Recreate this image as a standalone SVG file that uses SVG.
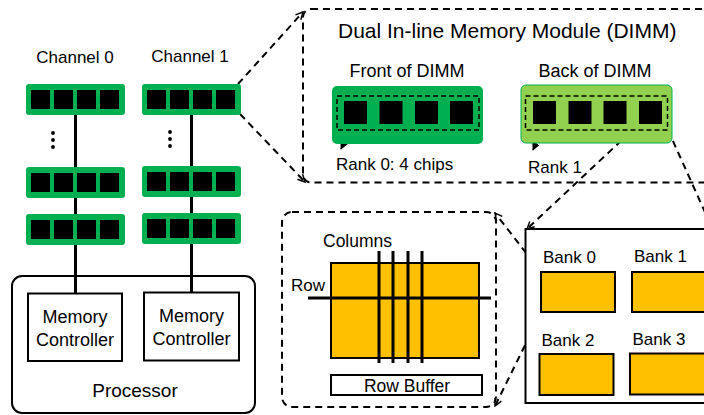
<svg xmlns="http://www.w3.org/2000/svg" width="704" height="415" viewBox="0 0 704 415">
<style>
text{font-family:"Liberation Sans",Arial,sans-serif;fill:#000}
.dimm{fill:#00b050}
.chip{fill:#000}
.bank{fill:#ffc000;stroke:#000;stroke-width:2}
.box{fill:#fff;stroke:#000;stroke-width:2}
.dash{fill:none;stroke:#000;stroke-width:2;stroke-dasharray:7 5}
.idash{fill:none;stroke:#000;stroke-width:1.5;stroke-dasharray:5 3}
.bus{stroke:#000;stroke-width:3}
</style>
<defs>
<marker id="oa" viewBox="0 0 10 10" refX="9" refY="5" markerWidth="9" markerHeight="9" markerUnits="userSpaceOnUse" orient="auto">
<path d="M1,1 L9,5 L1,9" fill="none" stroke="#000" stroke-width="1.6"/>
</marker>
<marker id="fa" viewBox="0 0 10 10" refX="9" refY="5" markerWidth="8" markerHeight="8" markerUnits="userSpaceOnUse" orient="auto">
<path d="M0,0 L10,5 L0,10 Z" fill="#000"/>
</marker>
<g id="chips4">
<rect class="chip" x="5" y="6" width="19" height="19"/>
<rect class="chip" x="28" y="6" width="19" height="19"/>
<rect class="chip" x="51" y="6" width="19" height="19"/>
<rect class="chip" x="74" y="6" width="19" height="19"/>
</g>
</defs>

<g id="processor">
<rect class="box" x="12" y="276" width="243" height="137" rx="10"/>
<text x="135" y="397" font-size="19" text-anchor="middle">Processor</text>
</g>

<g id="connectors">
<line class="bus" x1="75.5" y1="110" x2="75.5" y2="294"/>
<line class="bus" x1="191.5" y1="110" x2="191.5" y2="293"/>
<line class="dash" x1="238" y1="84" x2="303" y2="12" marker-end="url(#oa)"/>
<line class="dash" x1="240" y1="114" x2="305" y2="182" marker-end="url(#oa)"/>
<line class="dash" x1="639" y1="124" x2="527" y2="229" marker-end="url(#oa)"/>
<line class="dash" x1="668" y1="130" x2="713" y2="230"/>
<line class="dash" x1="541" y1="272" x2="495" y2="213" marker-end="url(#oa)"/>
<line class="dash" x1="541" y1="313" x2="495" y2="406" marker-end="url(#oa)"/>
<line x1="350" y1="130" x2="341" y2="149" stroke="#000" stroke-width="1.5" marker-end="url(#fa)"/>
<line x1="542" y1="130" x2="533" y2="150" stroke="#000" stroke-width="1.5" marker-end="url(#fa)"/>
</g>

<g id="channel0">
<text x="75" y="63" font-size="17" text-anchor="middle">Channel 0</text>
<g transform="translate(26,84)"><rect class="dimm" width="99" height="31" rx="3"/><use href="#chips4"/></g>
<circle cx="53" cy="133" r="1.9"/><circle cx="53" cy="140" r="1.9"/><circle cx="53" cy="147" r="1.9"/>
<g transform="translate(26,167)"><rect class="dimm" width="99" height="31" rx="3"/><use href="#chips4"/></g>
<g transform="translate(26,214)"><rect class="dimm" width="99" height="31" rx="3"/><use href="#chips4"/></g>
</g>

<g id="channel1">
<text x="190" y="62" font-size="17" text-anchor="middle">Channel 1</text>
<g transform="translate(142,84)"><rect class="dimm" width="99" height="31" rx="3"/><use href="#chips4"/></g>
<circle cx="170" cy="132" r="1.9"/><circle cx="170" cy="139" r="1.9"/><circle cx="170" cy="146" r="1.9"/>
<g transform="translate(142,166)"><rect class="dimm" width="99" height="31" rx="3"/><use href="#chips4"/></g>
<g transform="translate(142,213)"><rect class="dimm" width="99" height="31" rx="3"/><use href="#chips4"/></g>
</g>

<g id="mc0">
<rect class="box" x="28" y="293.5" width="94" height="67.5"/>
<text x="75" y="323" font-size="18" text-anchor="middle">Memory</text>
<text x="75" y="346" font-size="18" text-anchor="middle">Controller</text>
</g>
<g id="mc1">
<rect class="box" x="144" y="292.5" width="95" height="68"/>
<text x="191.5" y="322" font-size="18" text-anchor="middle">Memory</text>
<text x="191.5" y="345" font-size="18" text-anchor="middle">Controller</text>
</g>

<g id="dimm-detail">
<rect class="dash" x="303" y="9" width="440" height="173.5" rx="8"/>
<text x="338" y="38" font-size="21">Dual In-line Memory Module (DIMM)</text>
</g>

<g id="front-dimm">
<text x="407" y="77" font-size="18" text-anchor="middle">Front of DIMM</text>
<rect x="332" y="86" width="151" height="58" rx="5" fill="#00b050"/>
<rect class="idash" x="337" y="96" width="142" height="34"/>
<rect class="chip" x="344" y="101" width="23" height="23"/>
<rect class="chip" x="379.5" y="101" width="23" height="23"/>
<rect class="chip" x="415" y="101" width="23" height="23"/>
<rect class="chip" x="450" y="101" width="23" height="23"/>
<text x="336" y="170" font-size="17">Rank 0: 4 chips</text>
</g>

<g id="back-dimm">
<text x="595" y="77" font-size="18" text-anchor="middle">Back of DIMM</text>
<rect x="521" y="85" width="151" height="58" rx="5" fill="#92d050" stroke="#00b050" stroke-width="1"/>
<rect class="idash" x="525.5" y="96" width="142" height="34"/>
<rect class="chip" x="533" y="101" width="23" height="23"/>
<rect class="chip" x="568.5" y="101" width="23" height="23"/>
<rect class="chip" x="603.5" y="101" width="23" height="23"/>
<rect class="chip" x="639" y="101" width="23" height="23"/>
<text x="528" y="173" font-size="17">Rank 1</text>
</g>

<g id="bank-detail">
<rect class="dash" x="282" y="212" width="214" height="195" rx="10"/>
<rect class="bank" x="331" y="263" width="148" height="95"/>
<line class="bus" x1="308" y1="298" x2="491" y2="298"/>
<line class="bus" x1="379" y1="251" x2="379" y2="363"/>
<line class="bus" x1="393" y1="251" x2="393" y2="363"/>
<line class="bus" x1="408" y1="251" x2="408" y2="363"/>
<line class="bus" x1="422" y1="251" x2="422" y2="363"/>
<text x="323" y="247" font-size="17.5">Columns</text>
<text x="291" y="291" font-size="17">Row</text>
<rect class="box" x="331" y="375" width="151" height="20"/>
<text x="407" y="392" font-size="17.5" text-anchor="middle">Row Buffer</text>
</g>

<g id="chip-detail">
<rect class="box" x="525.5" y="229" width="200" height="174"/>
<rect class="bank" x="541" y="272" width="74" height="40"/>
<rect class="bank" x="632" y="272" width="80" height="40"/>
<rect class="bank" x="539.5" y="354" width="74" height="41"/>
<rect class="bank" x="630" y="353.5" width="80" height="41"/>
<text x="543" y="263" font-size="17">Bank 0</text>
<text x="634" y="262" font-size="17">Bank 1</text>
<text x="541.5" y="346" font-size="17">Bank 2</text>
<text x="632.5" y="345" font-size="17">Bank 3</text>
</g>
</svg>
